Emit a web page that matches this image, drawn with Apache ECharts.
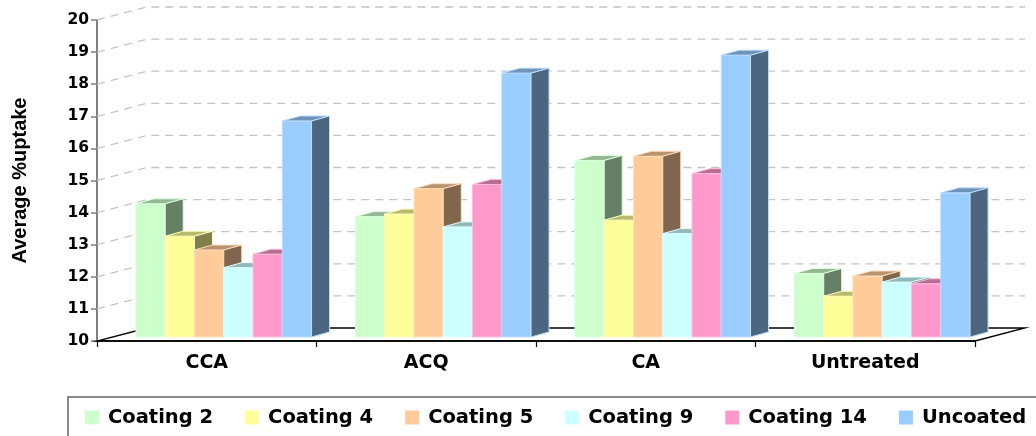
<!DOCTYPE html>
<html>
<head>
<meta charset="utf-8">
<script src="https://cdn.jsdelivr.net/npm/echarts@6/dist/echarts.min.js"></script>
<style>
  html, body { margin: 0; padding: 0; background: #ffffff; }
  #chart { width: 1036px; height: 436px; }
</style>
</head>
<body>
<div id="chart"></div>
<script>
// Average % uptake by preservative treatment and coating
const categories = ['CCA', 'ACQ', 'CA', 'Untreated'];
const seriesNames = ['Coating 2', 'Coating 4', 'Coating 5', 'Coating 9', 'Coating 14', 'Uncoated'];
const coating2  = [14.15, 13.75, 15.50, 11.98];
const coating4  = [13.14, 13.83, 13.64, 11.27];
const coating5  = [12.71, 14.62, 15.63, 11.90];
const coating9  = [12.16, 13.43, 13.22, 11.71];
const coating14 = [12.58, 14.75, 15.09, 11.66];
const uncoated  = [16.73, 18.22, 18.78, 14.49];
const yTicks = [10, 11, 12, 13, 14, 15, 16, 17, 18, 19, 20];

const seriesValues = [coating2, coating4, coating5, coating9, coating14, uncoated];
const colors = ['#ccffcc', '#ffff99', '#ffcc99', '#ccffff', '#ff99cc', '#99ccff'];

// oblique projection offsets (pixels)
const WALL = [50, -13];      // floor / back wall depth
const PLANE = [17, -4];      // front face plane of the columns
const BAR_DEPTH = [18, -5];  // depth of each column
const GROUP_FRAC = 0.8;      // share of a category band used by the columns
const Y_MIN = yTicks[0];
const Y_MAX = yTicks[yTicks.length - 1];

function parseHex(c) {
  return [1, 3, 5].map(i => parseInt(c.substr(i, 2), 16));
}
function toHex(rgb) {
  return '#' + rgb.map(v => Math.max(0, Math.min(255, Math.round(v))).toString(16).padStart(2, '0')).join('');
}
function shade(c, f) { return toHex(parseHex(c).map(v => v * f)); }
function lighten(c, f) { return toHex(parseHex(c).map(v => v + (255 - v) * f)); }

// back wall grid lines and floor
function wallRenderer(params, api) {
  const v = api.value(1);
  const cs = params.coordSys;
  const y = api.coord([0, v])[1];
  const xl = cs.x, xr = cs.x + cs.width;
  const dx = WALL[0], dy = WALL[1];
  if (v === Y_MIN) {
    return {
      type: 'polygon',
      shape: { points: [[xl, y], [xr, y], [xr + dx, y + dy], [xl + dx, y + dy]] },
      style: { fill: null, stroke: '#000000', lineWidth: 1.3 }
    };
  }
  return {
    type: 'polyline',
    shape: { points: [[xl, y], [xl + dx, y + dy], [xr + dx, y + dy]] },
    style: { fill: null, stroke: '#c4c4c4', lineWidth: 1.3, lineDash: [8, 6] }
  };
}

// one 3D column: front, top and right side faces
function barRenderer(si) {
  return function (params, api) {
    const cat = api.value(0);
    const v = api.value(1);
    const band = api.size([1, 0])[0];
    const bw = band * GROUP_FRAC / seriesNames.length;
    const top = api.coord([cat, v]);
    const base = api.coord([cat, Y_MIN]);
    const x0 = top[0] - band * GROUP_FRAC / 2 + si * bw + PLANE[0];
    const x1 = x0 + bw;
    const yt = top[1] + PLANE[1];
    const yb = base[1] + PLANE[1];
    const dx = BAR_DEPTH[0], dy = BAR_DEPTH[1];
    const c = colors[si];
    const edge = lighten(c, 0.35);
    return {
      type: 'group',
      children: [
        { type: 'polygon', shape: { points: [[x0, yb], [x1, yb], [x1, yt], [x0, yt]] },
          style: { fill: c, stroke: edge, lineWidth: 1 } },
        { type: 'polygon', shape: { points: [[x0, yt], [x1, yt], [x1 + dx, yt + dy], [x0 + dx, yt + dy]] },
          style: { fill: shade(c, 0.72), stroke: edge, lineWidth: 1 } },
        { type: 'polygon', shape: { points: [[x1, yb], [x1 + dx, yb + dy], [x1 + dx, yt + dy], [x1, yt]] },
          style: { fill: shade(c, 0.5), stroke: edge, lineWidth: 1 } }
      ]
    };
  };
}

const chart = echarts.init(document.getElementById('chart'), null, { renderer: 'canvas' });

const series = [{
  type: 'custom',
  name: 'wall',
  silent: true,
  z: 1,
  clip: false,
  renderItem: wallRenderer,
  data: yTicks.map(t => [0, t]),
  encode: { x: 0, y: 1 }
}];
seriesNames.forEach((name, si) => {
  series.push({
    type: 'custom',
    name: name,
    z: 2,
    clip: false,
    itemStyle: { color: colors[si] },
    renderItem: barRenderer(si),
    data: seriesValues[si].map((v, i) => [i, v]),
    encode: { x: 0, y: 1 }
  });
});

chart.setOption({
  animation: false,
  backgroundColor: '#ffffff',
  grid: { left: 97, top: 20, width: 878, height: 321, outerBoundsMode: 'none', containLabel: false },
  xAxis: {
    type: 'category',
    data: categories,
    boundaryGap: true,
    axisLine: { show: true, lineStyle: { color: '#000000', width: 1.5 } },
    axisTick: { show: true, length: 6, lineStyle: { color: '#000000', width: 1.2 } },
    axisLabel: {
      margin: 13,
      color: '#000000',
      fontFamily: 'DejaVu Sans',
      fontWeight: 'bold',
      fontSize: 19
    },
    splitLine: { show: false }
  },
  yAxis: {
    type: 'value',
    min: Y_MIN,
    max: Y_MAX,
    interval: 1,
    name: 'Average %uptake',
    nameLocation: 'middle',
    nameGap: 67,
    nameTextStyle: {
      color: '#000000',
      fontFamily: 'Liberation Sans',
      fontWeight: 'bold',
      fontSize: 20
    },
    axisLine: { show: true, lineStyle: { color: '#808080', width: 2 } },
    axisTick: { show: true, length: 6, lineStyle: { color: '#808080', width: 1.5 } },
    axisLabel: {
      margin: 8,
      color: '#000000',
      fontFamily: 'DejaVu Sans',
      fontWeight: 'bold',
      fontSize: 15.5
    },
    splitLine: { show: false }
  },
  legend: {
    data: seriesNames,
    left: 85,
    top: 407.5,
    width: 960,
    padding: 0,
    icon: 'rect',
    itemWidth: 14,
    itemHeight: 14,
    itemGap: 32,
    selectedMode: false,
    textStyle: {
      color: '#000000',
      fontFamily: 'DejaVu Sans',
      fontWeight: 'bold',
      fontSize: 19.5,
      lineHeight: 20,
      padding: [0, 0, 0, 4]
    }
  },
  graphic: [{
    type: 'rect',
    silent: true,
    z: -1,
    shape: { x: 68, y: 397, width: 1000, height: 60 },
    style: { fill: null, stroke: '#8a8a8a', lineWidth: 2 }
  }],
  series: series
});
</script>
</body>
</html>
